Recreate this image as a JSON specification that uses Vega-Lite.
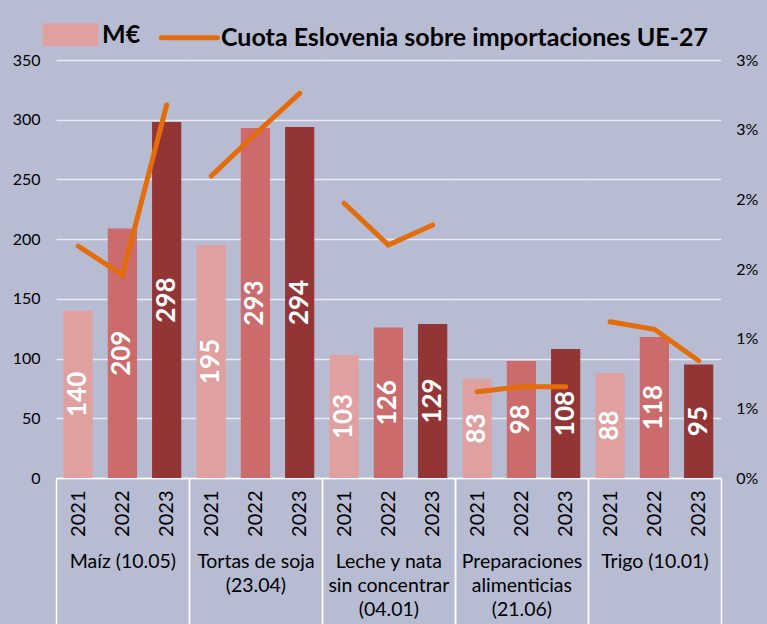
{
  "$schema": "https://vega.github.io/schema/vega-lite/v6.json",
  "background": "#b8bcd3",
  "padding": {"left": 5, "right": 5, "top": 4, "bottom": 0},
  "config": {
    "view": {"stroke": null},
    "font": "Lato",
    "axis": {"labelFont": "Lato", "labelColor": "#000000", "titleFont": "Lato", "titleColor": "#000000"},
    "axisX": {
      "labelAngle": 270,
      "labelFontSize": 20,
      "labelPadding": -134,
      "domainColor": "#ffffff",
      "domainWidth": 1.5,
      "ticks": true,
      "tickSize": 146,
      "tickWidth": 1.5,
      "tickBand": "extent",
      "titleFontSize": 19.5,
      "titleFontWeight": "normal",
      "titleLineHeight": 24,
      "titleY": 74,
      "titleBaseline": "top"
    }
  },
  "data": {
    "values": [
      {"producto": "Maíz (10.05)", "anio": "2021", "valor": 140, "cuota": 0.01665},
      {"producto": "Maíz (10.05)", "anio": "2022", "valor": 209, "cuota": 0.01457},
      {"producto": "Maíz (10.05)", "anio": "2023", "valor": 298, "cuota": 0.02677},
      {"producto": "Tortas de soja (23.04)", "anio": "2021", "valor": 195, "cuota": 0.02167},
      {"producto": "Tortas de soja (23.04)", "anio": "2022", "valor": 293, "cuota": 0.02469},
      {"producto": "Tortas de soja (23.04)", "anio": "2023", "valor": 294, "cuota": 0.02761},
      {"producto": "Leche y nata sin concentrar (04.01)", "anio": "2021", "valor": 103, "cuota": 0.01972},
      {"producto": "Leche y nata sin concentrar (04.01)", "anio": "2022", "valor": 126, "cuota": 0.01672},
      {"producto": "Leche y nata sin concentrar (04.01)", "anio": "2023", "valor": 129, "cuota": 0.01816},
      {"producto": "Preparaciones alimenticias (21.06)", "anio": "2021", "valor": 83, "cuota": 0.00619},
      {"producto": "Preparaciones alimenticias (21.06)", "anio": "2022", "valor": 98, "cuota": 0.00655},
      {"producto": "Preparaciones alimenticias (21.06)", "anio": "2023", "valor": 108, "cuota": 0.00655},
      {"producto": "Trigo (10.01)", "anio": "2021", "valor": 88, "cuota": 0.01122},
      {"producto": "Trigo (10.01)", "anio": "2022", "valor": 118, "cuota": 0.01067},
      {"producto": "Trigo (10.01)", "anio": "2023", "valor": 95, "cuota": 0.00842}
    ]
  },
  "spacing": 0,
  "bounds": "flush",
  "resolve": {"scale": {"x": "independent", "y": "independent", "color": "independent"}},
  "hconcat": [
    {
      "transform": [{"filter": "datum.producto === 'Maíz (10.05)'"}],
      "width": 132.8,
      "height": 418,
      "encoding": {
        "x": {"field": "anio", "type": "nominal", "scale": {"paddingInner": 0, "paddingOuter": 0},
          "axis": {"title": "Maíz (10.05)", "labelFontSize": 20, "titleFontSize": 19.5, "tickColor": {"condition": {"test": "datum.value === '2023' || datum.extra", "value": "#ffffff"}, "value": "transparent"}}}
      },
      "layer": [
        {
          "mark": {"type": "bar", "width": {"band": 0.66}},
          "encoding": {
            "y": {"field": "valor", "type": "quantitative", "scale": {"domain": [0, 350]},
              "axis": {"orient": "left", "title": null, "values": [0, 50, 100, 150, 200, 250, 300, 350], "domain": false, "ticks": false, "labelFontSize": 16, "labelPadding": 16, "gridColor": "#e8eaf2", "gridWidth": 1.5, "minExtent": 51, "maxExtent": 51}},
            "color": {"field": "anio", "type": "nominal", "scale": {"domain": ["2021", "2022", "2023"], "range": ["#e0a0a0", "#cb6b6b", "#943535"]}, "legend": null}
          }
        },
        {
          "mark": {"type": "text", "angle": 270, "fontWeight": "bold", "fontSize": 26, "color": "#ffffff", "align": "center", "baseline": "middle"},
          "encoding": {
            "y": {"field": "valor", "type": "quantitative", "stack": "zero", "bandPosition": 0.5, "scale": {"domain": [0, 350]}, "axis": null},
            "text": {"field": "valor", "type": "quantitative"}
          }
        },
        {
          "mark": {"type": "line", "strokeWidth": 5, "strokeCap": "round"},
          "encoding": {
            "y": {"field": "cuota", "type": "quantitative", "scale": {"domain": [0, 0.03]}, "axis": null},
            "color": {
              "datum": "Cuota Eslovenia sobre importaciones UE-27",
              "type": "nominal",
              "scale": {"domain": ["M€", "Cuota Eslovenia sobre importaciones UE-27"], "range": ["#e0a0a0", "#e46c0a"]},
              "legend": {
                "title": null,
                "orient": "none",
                "legendX": -16,
                "legendY": -56,
                "direction": "horizontal",
                "labelFont": "Lato",
                "labelFontSize": 25,
                "labelFontWeight": "bold",
                "labelColor": "#000000",
                "labelOffset": 1,
                "columnPadding": 10,
                "symbolSize": 3136,
                "symbolStrokeWidth": 5,
                "labelLimit": 600,
                "encode": {
                  "symbols": {
                    "update": {
                      "shape": {"signal": "datum.value === 'M€' ? 'M-0.91,-0.32H0.91V0.32H-0.91Z' : 'stroke'"},
                      "fill": {"signal": "datum.value === 'M€' ? '#e0a0a0' : 'transparent'"},
                      "stroke": {"signal": "datum.value === 'M€' ? 'transparent' : '#e46c0a'"},
                      "strokeWidth": {"value": 5},
                      "strokeCap": {"value": "round"},
                      "opacity": {"value": 1}
                    }
                  }
                }
              }
            }
          }
        }
      ],
      "resolve": {"scale": {"y": "independent", "color": "independent"}}
    },
    {
      "transform": [{"filter": "datum.producto === 'Tortas de soja (23.04)'"}],
      "width": 132.8,
      "height": 418,
      "encoding": {
        "x": {"field": "anio", "type": "nominal", "scale": {"paddingInner": 0, "paddingOuter": 0},
          "axis": {"title": ["Tortas de soja", "(23.04)"], "labelFontSize": 20, "titleFontSize": 19.5, "tickColor": {"condition": {"test": "datum.value === '2023' || datum.extra", "value": "#ffffff"}, "value": "transparent"}}}
      },
      "layer": [
        {
          "mark": {"type": "bar", "width": {"band": 0.66}},
          "encoding": {
            "y": {"field": "valor", "type": "quantitative", "scale": {"domain": [0, 350]},
              "axis": {"title": null, "values": [0, 50, 100, 150, 200, 250, 300, 350], "labels": false, "domain": false, "ticks": false, "gridColor": "#e8eaf2", "gridWidth": 1.5, "minExtent": 0, "maxExtent": 0}},
            "color": {"field": "anio", "type": "nominal", "scale": {"domain": ["2021", "2022", "2023"], "range": ["#e0a0a0", "#cb6b6b", "#943535"]}, "legend": null}
          }
        },
        {
          "mark": {"type": "text", "angle": 270, "fontWeight": "bold", "fontSize": 26, "color": "#ffffff", "align": "center", "baseline": "middle"},
          "encoding": {
            "y": {"field": "valor", "type": "quantitative", "stack": "zero", "bandPosition": 0.5, "scale": {"domain": [0, 350]}, "axis": null},
            "text": {"field": "valor", "type": "quantitative"}
          }
        },
        {
          "mark": {"type": "line", "strokeWidth": 5, "strokeCap": "round", "color": "#e46c0a"},
          "encoding": {
            "y": {"field": "cuota", "type": "quantitative", "scale": {"domain": [0, 0.03]}, "axis": null}
          }
        }
      ],
      "resolve": {"scale": {"y": "independent"}}
    },
    {
      "transform": [{"filter": "datum.producto === 'Leche y nata sin concentrar (04.01)'"}],
      "width": 132.8,
      "height": 418,
      "encoding": {
        "x": {"field": "anio", "type": "nominal", "scale": {"paddingInner": 0, "paddingOuter": 0},
          "axis": {"title": ["Leche y nata", "sin concentrar", "(04.01)"], "labelFontSize": 20, "titleFontSize": 19.5, "tickColor": {"condition": {"test": "datum.value === '2023' || datum.extra", "value": "#ffffff"}, "value": "transparent"}}}
      },
      "layer": [
        {
          "mark": {"type": "bar", "width": {"band": 0.66}},
          "encoding": {
            "y": {"field": "valor", "type": "quantitative", "scale": {"domain": [0, 350]},
              "axis": {"title": null, "values": [0, 50, 100, 150, 200, 250, 300, 350], "labels": false, "domain": false, "ticks": false, "gridColor": "#e8eaf2", "gridWidth": 1.5, "minExtent": 0, "maxExtent": 0}},
            "color": {"field": "anio", "type": "nominal", "scale": {"domain": ["2021", "2022", "2023"], "range": ["#e0a0a0", "#cb6b6b", "#943535"]}, "legend": null}
          }
        },
        {
          "mark": {"type": "text", "angle": 270, "fontWeight": "bold", "fontSize": 26, "color": "#ffffff", "align": "center", "baseline": "middle"},
          "encoding": {
            "y": {"field": "valor", "type": "quantitative", "stack": "zero", "bandPosition": 0.5, "scale": {"domain": [0, 350]}, "axis": null},
            "text": {"field": "valor", "type": "quantitative"}
          }
        },
        {
          "mark": {"type": "line", "strokeWidth": 5, "strokeCap": "round", "color": "#e46c0a"},
          "encoding": {
            "y": {"field": "cuota", "type": "quantitative", "scale": {"domain": [0, 0.03]}, "axis": null}
          }
        }
      ],
      "resolve": {"scale": {"y": "independent"}}
    },
    {
      "transform": [{"filter": "datum.producto === 'Preparaciones alimenticias (21.06)'"}],
      "width": 132.8,
      "height": 418,
      "encoding": {
        "x": {"field": "anio", "type": "nominal", "scale": {"paddingInner": 0, "paddingOuter": 0},
          "axis": {"title": ["Preparaciones", "alimenticias", "(21.06)"], "labelFontSize": 20, "titleFontSize": 19.5, "tickColor": {"condition": {"test": "datum.value === '2023' || datum.extra", "value": "#ffffff"}, "value": "transparent"}}}
      },
      "layer": [
        {
          "mark": {"type": "bar", "width": {"band": 0.66}},
          "encoding": {
            "y": {"field": "valor", "type": "quantitative", "scale": {"domain": [0, 350]},
              "axis": {"title": null, "values": [0, 50, 100, 150, 200, 250, 300, 350], "labels": false, "domain": false, "ticks": false, "gridColor": "#e8eaf2", "gridWidth": 1.5, "minExtent": 0, "maxExtent": 0}},
            "color": {"field": "anio", "type": "nominal", "scale": {"domain": ["2021", "2022", "2023"], "range": ["#e0a0a0", "#cb6b6b", "#943535"]}, "legend": null}
          }
        },
        {
          "mark": {"type": "text", "angle": 270, "fontWeight": "bold", "fontSize": 26, "color": "#ffffff", "align": "center", "baseline": "middle"},
          "encoding": {
            "y": {"field": "valor", "type": "quantitative", "stack": "zero", "bandPosition": 0.5, "scale": {"domain": [0, 350]}, "axis": null},
            "text": {"field": "valor", "type": "quantitative"}
          }
        },
        {
          "mark": {"type": "line", "strokeWidth": 5, "strokeCap": "round", "color": "#e46c0a"},
          "encoding": {
            "y": {"field": "cuota", "type": "quantitative", "scale": {"domain": [0, 0.03]}, "axis": null}
          }
        }
      ],
      "resolve": {"scale": {"y": "independent"}}
    },
    {
      "transform": [{"filter": "datum.producto === 'Trigo (10.01)'"}],
      "width": 132.8,
      "height": 418,
      "encoding": {
        "x": {"field": "anio", "type": "nominal", "scale": {"paddingInner": 0, "paddingOuter": 0},
          "axis": {"title": "Trigo (10.01)", "labelFontSize": 20, "titleFontSize": 19.5, "tickColor": {"condition": {"test": "datum.value === '2023' || datum.extra", "value": "#ffffff"}, "value": "transparent"}}}
      },
      "layer": [
        {
          "mark": {"type": "bar", "width": {"band": 0.66}},
          "encoding": {
            "y": {"field": "valor", "type": "quantitative", "scale": {"domain": [0, 350]},
              "axis": {"title": null, "values": [0, 50, 100, 150, 200, 250, 300, 350], "labels": false, "domain": false, "ticks": false, "gridColor": "#e8eaf2", "gridWidth": 1.5, "minExtent": 0, "maxExtent": 0}},
            "color": {"field": "anio", "type": "nominal", "scale": {"domain": ["2021", "2022", "2023"], "range": ["#e0a0a0", "#cb6b6b", "#943535"]}, "legend": null}
          }
        },
        {
          "mark": {"type": "text", "angle": 270, "fontWeight": "bold", "fontSize": 26, "color": "#ffffff", "align": "center", "baseline": "middle"},
          "encoding": {
            "y": {"field": "valor", "type": "quantitative", "stack": "zero", "bandPosition": 0.5, "scale": {"domain": [0, 350]}, "axis": null},
            "text": {"field": "valor", "type": "quantitative"}
          }
        },
        {
          "mark": {"type": "line", "strokeWidth": 5, "strokeCap": "round", "color": "#e46c0a"},
          "encoding": {
            "y": {"field": "cuota", "type": "quantitative", "scale": {"domain": [0, 0.03]},
              "axis": {"orient": "right", "title": null, "values": [0, 0.005, 0.01, 0.015, 0.02, 0.025, 0.03], "format": ".0%", "grid": false, "domain": false, "ticks": false, "labelFontSize": 16, "labelPadding": 15, "minExtent": 42, "maxExtent": 42}}
          }
        }
      ],
      "resolve": {"scale": {"y": "independent"}}
    }
  ]
}
